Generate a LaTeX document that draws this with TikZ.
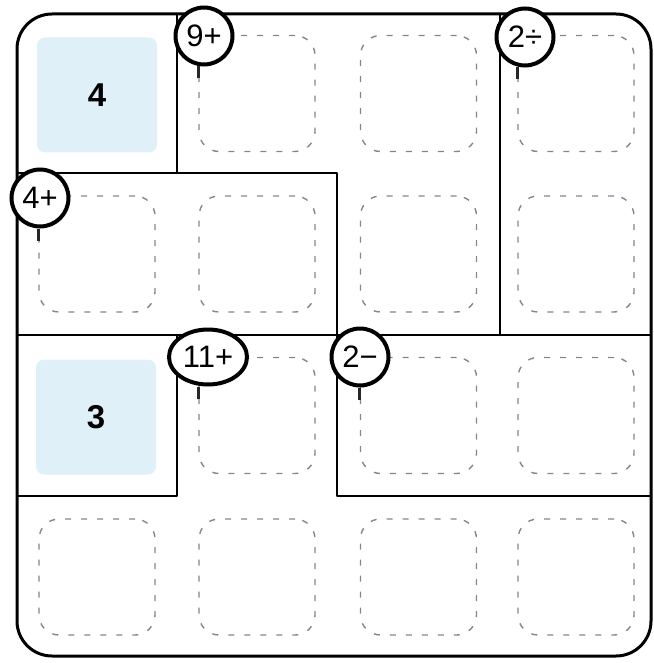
\documentclass[tikz,border=0pt]{standalone}
\usepackage{fontspec}
\setmainfont{Liberation Sans}
\usetikzlibrary{shapes.geometric}
\definecolor{givenblue}{RGB}{224,240,249}
\definecolor{dashgray}{RGB}{125,135,150}
\begin{document}
\begin{tikzpicture}[x=1pt,y=-1pt,
  cage/.style={line width=2.6pt, line cap=round, line join=round},
  outer/.style={line width=3pt, rounded corners=35pt},
  answerbox/.style={draw=dashgray, line width=1.4pt, dash pattern=on 6pt off 10pt, rounded corners=20pt, minimum size=116pt, inner sep=0pt},
  givenbox/.style={fill=givenblue, rounded corners=8pt, minimum width=120pt, minimum height=115pt, inner sep=0pt, font=\fontsize{33}{35}\selectfont\bfseries},
  cagelabel/.style={circle, draw, fill=white, line width=4pt, minimum size=57pt, inner sep=0pt, font=\fontsize{31}{33}\selectfont},
  widelabel/.style={ellipse, draw, fill=white, line width=4pt, minimum width=78pt, minimum height=55pt, inner sep=0pt, font=\fontsize{31}{33}\selectfont},
  stem/.style={line width=3.2pt, draw=black!85}
]
\useasboundingbox (0,0) rectangle (653,663);
% given cells
\node[givenbox] (g11) at (97,95) {4};
\node[givenbox] (g31) at (96,417) {3};
% answer boxes
\node[answerbox] (a12) at (257,93.5) {};
\node[answerbox] (a13) at (418.5,93.5) {};
\node[answerbox] (a14) at (576,93.5) {};
\node[answerbox] (a21) at (97,254) {};
\node[answerbox] (a22) at (257,254) {};
\node[answerbox] (a23) at (418.5,254) {};
\node[answerbox] (a24) at (576,254) {};
\node[answerbox] (a32) at (257,415.5) {};
\node[answerbox] (a33) at (418.5,415.5) {};
\node[answerbox] (a34) at (576,415.5) {};
\node[answerbox] (a41) at (97,577) {};
\node[answerbox] (a42) at (257,577) {};
\node[answerbox] (a43) at (418.5,577) {};
\node[answerbox] (a44) at (576,577) {};
% cage borders
\draw[cage] (177,14) -- (177,173);
\draw[cage] (17,173) -- (337,173) -- (337,335);
\draw[cage] (500,14) -- (500,335);
\draw[cage] (17,335) -- (651,335);
\draw[cage] (177,335) -- (177,496) -- (17,496);
\draw[cage] (337,335) -- (337,496) -- (651,496);
% outer frame
\draw[outer] (17,14) rectangle (651,656);
% cage labels
\node[cagelabel] (l9) at (204,36) {9+};
\node[cagelabel] (l2d) at (525,37) {2÷};
\node[cagelabel] (l4) at (40,198) {4+};
\node[widelabel] (l11) at (208,357) {11+};
\node[cagelabel] (l2m) at (360,357) {2−};
% stems under labels
\draw[stem] (a12.west |- l9.south) -- ++(0,12);
\draw[stem] (a14.west |- l2d.south) -- ++(0,12);
\draw[stem] (a21.west |- l4.south) -- ++(0,12);
\draw[stem] (a32.west |- l11.south) -- ++(0,12);
\draw[stem] (a33.west |- l2m.south) -- ++(0,12);
\end{tikzpicture}
\end{document}
